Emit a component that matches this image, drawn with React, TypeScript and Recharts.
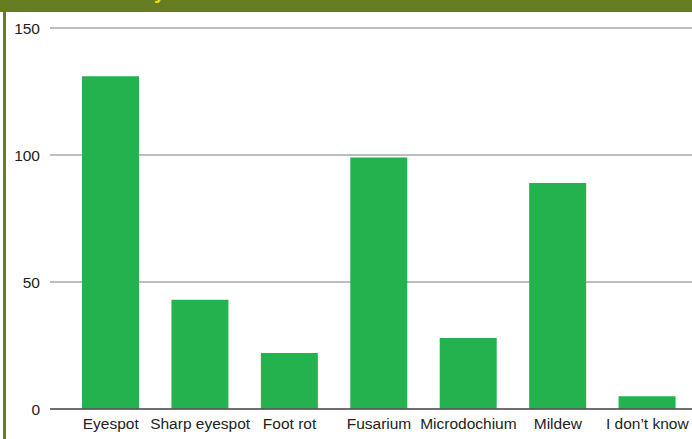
import React from "react";
import { BarChart, Bar, XAxis, YAxis, CartesianGrid } from "recharts";

const categories = ["Eyespot", "Sharp eyespot", "Foot rot", "Fusarium", "Microdochium", "Mildew", "I don\u2019t know"];
const counts = [131, 43, 22, 99, 28, 89, 5];
const yTicks = [0, 50, 100, 150];

const data = categories.map((name, i) => ({ name, value: counts[i] }));

const font = "'Liberation Sans', Arial, Helvetica, sans-serif";

export default function App() {
  return (
    <div style={{ position: "absolute", left: 0, top: 0, width: 692, height: 439, background: "#fff", overflow: "hidden" }}>
      <div style={{ position: "absolute", left: 0, top: 0, width: 692, height: 12, background: "#677d22", overflow: "hidden" }}>
        <span style={{ position: "absolute", left: 154, top: -19, fontFamily: font, fontWeight: "bold", fontSize: 20, color: "#ffd800", lineHeight: "23px" }}>y</span>
      </div>
      <div style={{ position: "absolute", left: 3, top: 12, width: 3, height: 427, background: "#677d22" }} />
      <div style={{ position: "absolute", left: 0, top: 0 }}>
        <BarChart width={692} height={439} data={data} margin={{ top: 28, right: 0, bottom: 0, left: 0 }}>
          <CartesianGrid vertical={false} stroke="#a8a8a8" strokeWidth={1.5} />
          <XAxis
            dataKey="name"
            interval={0}
            height={30}
            padding={{ left: 16, right: 0 }}
            tickLine={false}
            tickSize={0}
            tickMargin={9}
            axisLine={{ stroke: "#555", strokeWidth: 1.5 }}
            tick={{ fontFamily: font, fontSize: 15.5, fill: "#222" }}
          />
          <YAxis
            domain={[0, 150]}
            ticks={yTicks}
            width={50}
            axisLine={false}
            tickLine={false}
            tickSize={0}
            tickMargin={10}
            tick={{ fontFamily: font, fontSize: 15.5, fill: "#222" }}
          />
          <Bar dataKey="value" fill="#24b24f" barSize={57} isAnimationActive={false} />
        </BarChart>
      </div>
    </div>
  );
}
